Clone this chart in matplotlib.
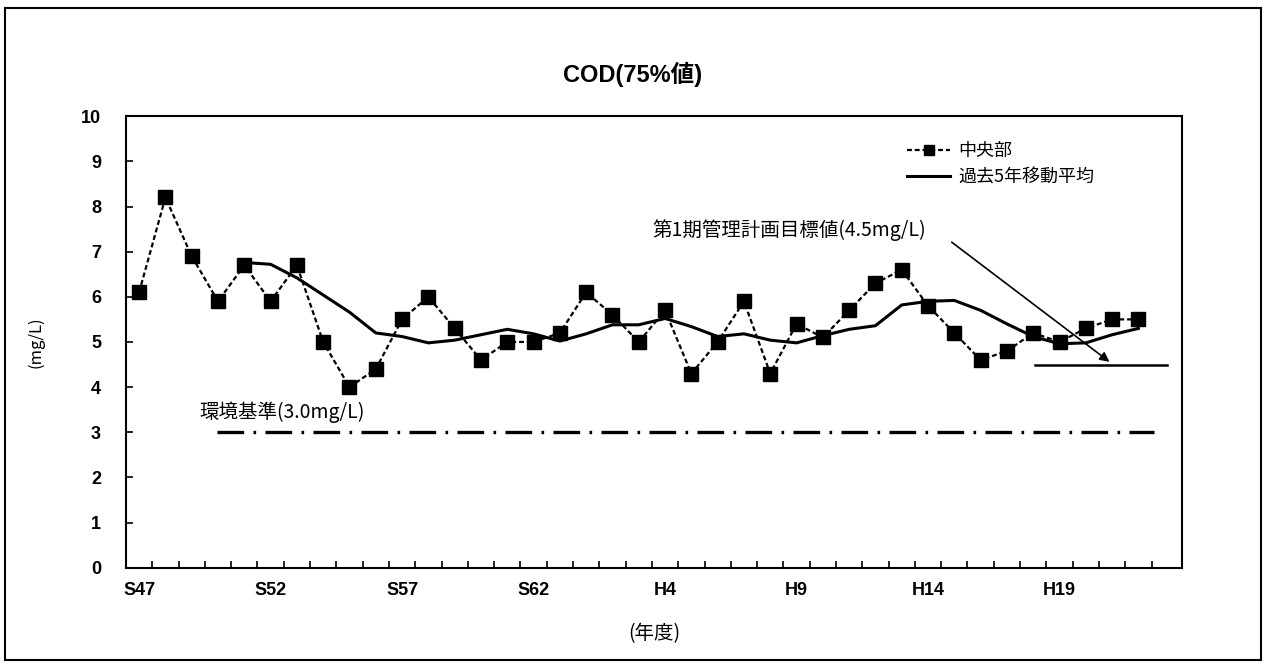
import numpy as np
import matplotlib.pyplot as plt
from matplotlib.patches import Rectangle

plt.rcParams['font.family'] = ['Noto Sans CJK JP', 'DejaVu Sans']

years = ['S47', 'S48', 'S49', 'S50', 'S51', 'S52', 'S53', 'S54', 'S55', 'S56',
         'S57', 'S58', 'S59', 'S60', 'S61', 'S62', 'S63', 'H1', 'H2', 'H3',
         'H4', 'H5', 'H6', 'H7', 'H8', 'H9', 'H10', 'H11', 'H12', 'H13',
         'H14', 'H15', 'H16', 'H17', 'H18', 'H19', 'H20', 'H21', 'H22']
center = [6.1, 8.2, 6.9, 5.9, 6.7, 5.9, 6.7, 5.0, 4.0, 4.4,
          5.5, 6.0, 5.3, 4.6, 5.0, 5.0, 5.2, 6.1, 5.6, 5.0,
          5.7, 4.3, 5.0, 5.9, 4.3, 5.4, 5.1, 5.7, 6.3, 6.6,
          5.8, 5.2, 4.6, 4.8, 5.2, 5.0, 5.3, 5.5, 5.5]
# past 5-year moving average, starts at S51
ma_start = 4
moving_avg = [6.76, 6.72, 6.42, 6.04, 5.66, 5.20, 5.12, 4.98, 5.04, 5.16,
              5.28, 5.18, 5.02, 5.18, 5.38, 5.38, 5.52, 5.34, 5.12, 5.18,
              5.04, 4.98, 5.14, 5.28, 5.36, 5.82, 5.90, 5.92, 5.70, 5.40,
              5.12, 4.96, 4.98, 5.16, 5.30]
env_std = 3.0
target = 4.5
label_every = 5

x = np.arange(len(years))
latin = ['Liberation Sans', 'Noto Sans CJK JP']

fig = plt.figure(figsize=(12.66, 6.64), dpi=100)
ax = fig.add_axes([0.0995, 0.145, 0.834, 0.68])

ax.plot(x, center, color='black', linestyle=(0, (2.2, 1.3)), linewidth=1.6,
        marker='s', markersize=10.5, label='中央部')
ax.plot(x[ma_start:], moving_avg, color='black', linewidth=2.2, label='過去5年移動平均')

ax.plot([2.97, 38.6], [env_std, env_std], color='black', linewidth=2.4,
        linestyle=(0, (8, 2.8, 0.8, 2.8)))
ax.plot([34.07, 39.1], [target, target], color='black', linewidth=1.8)

ax.text(2.3, 3.45, '環境基準(3.0mg/L)', fontsize=14, va='center', ha='left')
ax.text(19.5, 7.48, '第1期管理計画目標値(4.5mg/L)', fontsize=14, va='center', ha='left')
ax.annotate('', xy=(36.9, 4.56), xytext=(30.9, 7.21),
            arrowprops=dict(arrowstyle='-|>', color='black', lw=1.2,
                            shrinkA=0, shrinkB=0, mutation_scale=14))

ax.set_xlim(-0.5, 39.65)
ax.set_ylim(0, 10)
ax.set_yticks(np.arange(0, 11, 1))
ax.set_xticks(x[::label_every])
ax.set_xticklabels(years[::label_every])
ax.set_xticks(np.arange(-0.5, 39, 1), minor=True)
ax.tick_params(axis='x', which='major', length=0, pad=10)
ax.tick_params(axis='x', which='minor', direction='in', length=5, width=1.2)
ax.tick_params(axis='y', direction='in', length=5, width=1.2, pad=18)
for lab in ax.get_xticklabels() + ax.get_yticklabels():
    lab.set_fontsize(13)
    lab.set_fontweight('bold')
    lab.set_family(latin)
for s in ax.spines.values():
    s.set_linewidth(1.5)

ax.set_ylabel('(mg/L)', fontsize=12, labelpad=26)
ax.set_xlabel('(年度)', fontsize=14, labelpad=18)
fig.text(0.5, 0.888, 'COD(75%値)', ha='center', va='center',
         fontsize=17, fontweight='bold', family=latin)

ax.legend(loc='upper left', bbox_to_anchor=(0.7396, 0.943), frameon=False,
          fontsize=13, handlelength=2.4, handletextpad=0.45, labelspacing=0.45,
          borderpad=0, borderaxespad=0, markerscale=0.7)

fig.patches.append(Rectangle((0.004, 0.006), 0.992, 0.982, transform=fig.transFigure,
                             fill=False, edgecolor='black', linewidth=1.5))

fig.savefig('out.png', dpi=100)
